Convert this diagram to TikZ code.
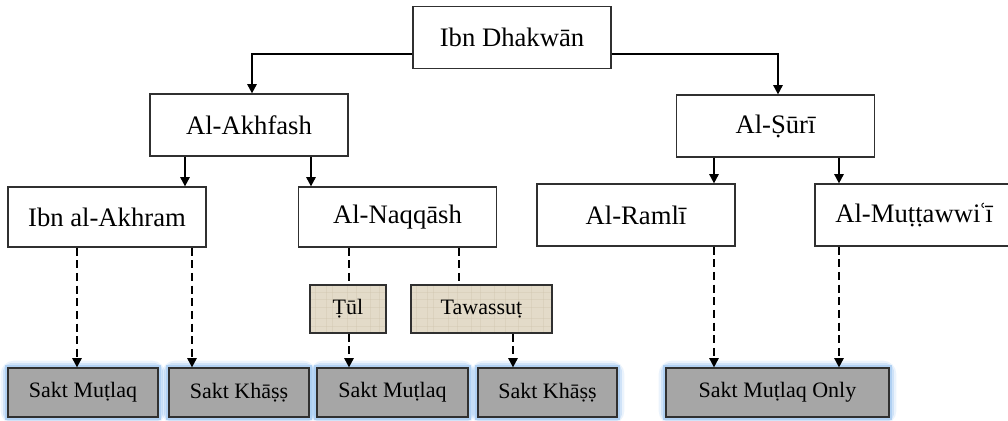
\documentclass[tikz,border=0pt]{standalone}
\usepackage{fontspec}
\setmainfont{Liberation Serif}
\usetikzlibrary{arrows.meta,backgrounds}
\definecolor{boxline}{HTML}{303030}
\definecolor{graybox}{HTML}{A6A6A6}
\definecolor{parch}{HTML}{E3DBC9}
\definecolor{parchline}{HTML}{CDC2AA}
\definecolor{glow}{HTML}{9CC5F0}
\tikzset{
  namebox/.style={draw=boxline, line width=0.9pt, fill=white, minimum width=148.5pt, minimum height=46.5pt, inner sep=0pt, font=\fontsize{20}{23}\selectfont},
  optbox/.style={draw=boxline, line width=0.9pt, minimum height=36pt, inner sep=0pt, font=\fontsize{16.5}{19}\selectfont},
  saktbox/.style={draw=boxline, line width=0.9pt, fill=graybox, minimum height=36.75pt, inner sep=0pt, font=\fontsize{16.5}{19}\selectfont},
  arr/.style={line width=1.4pt, -{Triangle[width=7pt,length=7pt]}},
  darr/.style={line width=1.4pt, dash pattern=on 6pt off 3.5pt, -{Triangle[width=7pt,length=7pt]}},
  dline/.style={line width=1.4pt, dash pattern=on 6pt off 3.5pt},
  texture/.style={parchline, line width=0.8pt, opacity=0.35},
}
\begin{document}
\begin{tikzpicture}[x=0.75pt,y=-0.75pt]
\useasboundingbox (0,0) rectangle (1008,421);
\clip (0,0) rectangle (1008,421);
% nodes
\node[namebox] (dh) at (512,37.5) {Ibn Dhakwān};
\node[namebox] (akh) at (249,125) {Al-Akhfash};
\node[namebox] (suri) at (775.5,126) {Al-Ṣūrī};
\node[namebox, minimum height=45pt] (ikh) at (107,217) {Ibn al-Akhram};
\node[namebox, minimum height=45pt] (naq) at (397.5,217) {Al-Naqqāsh};
\node[namebox] (ram) at (636,215) {Al-Ramlī};
\node[namebox] (mut) at (914,215) {Al-Muṭṭawwi\kern-1.5pt ʿ\kern-1.5pt ī};
\node[optbox, minimum width=57pt] (tul) at (348,309) {Ṭūl};
\node[optbox, minimum width=105.75pt] (taw) at (481.5,309) {Tawassuṭ};
\node[saktbox, minimum width=112.5pt] (b1) at (83,392.5) {Sakt Muṭlaq};
\node[saktbox, minimum width=105pt] (b2) at (239,392.5) {Sakt Khāṣṣ};
\node[saktbox, minimum width=113.25pt] (b3) at (392.5,392.5) {Sakt Muṭlaq};
\node[saktbox, minimum width=104.25pt] (b4) at (547.5,392.5) {Sakt Khāṣṣ};
\node[saktbox, minimum width=167.25pt] (b5) at (777.5,392.5) {Sakt Muṭlaq Only};
% glow and parchment texture
\begin{scope}[on background layer]
\foreach \b in {b1,b2,b3,b4,b5}{
  \draw[glow, opacity=0.2, line width=10pt, rounded corners=5pt] (\b.south west) rectangle (\b.north east);
  \draw[glow, opacity=0.35, line width=6.5pt, rounded corners=3pt] (\b.south west) rectangle (\b.north east);
  \draw[glow, opacity=0.6, line width=3pt] (\b.south west) rectangle (\b.north east);
}
\foreach \o in {tul,taw}{
  \fill[parch] (\o.south west) rectangle (\o.north east);
  \begin{scope}
    \clip (\o.south west) rectangle (\o.north east);
    \foreach \d in {6,17,23,38,47,61,70,84,95,108,121,133}{
      \draw[texture] ([xshift=\d*0.75pt]\o.south west) -- ([xshift=\d*0.75pt]\o.north west);
    }
    \foreach \d in {7,15,26,34,41}{
      \draw[texture] ([yshift=\d*0.75pt]\o.south west) -- ([yshift=\d*0.75pt]\o.south east);
    }
  \end{scope}
}
\end{scope}
% junction coordinates
\coordinate (jl) at (252,54);
\coordinate (jr) at (778,54);
\coordinate (xa) at (185,0);
\coordinate (xb) at (311,0);
\coordinate (xc) at (714,0);
\coordinate (xd) at (839,0);
\coordinate (x1) at (77,0);
\coordinate (x2) at (192,0);
\coordinate (x3) at (349,0);
\coordinate (x4) at (459,0);
\coordinate (x5) at (513,0);
% solid connectors
\draw[arr] (dh.west |- jl) -- (jl) -- (akh.north -| jl);
\draw[arr] (dh.east |- jr) -- (jr) -- (suri.north -| jr);
\draw[arr] (akh.south -| xa) -- (ikh.north -| xa);
\draw[arr] (akh.south -| xb) -- (naq.north -| xb);
\draw[arr] (suri.south -| xc) -- (ram.north -| xc);
\draw[arr] (suri.south -| xd) -- (mut.north -| xd);
% dashed connectors
\draw[darr] (ikh.south -| x1) -- (b1.north -| x1);
\draw[darr] (ikh.south -| x2) -- (b2.north -| x2);
\draw[dline] (naq.south -| x3) -- (tul.north -| x3);
\draw[dline] (naq.south -| x4) -- (taw.north -| x4);
\draw[darr] (tul.south -| x3) -- (b3.north -| x3);
\draw[darr] (taw.south -| x5) -- (b4.north -| x5);
\draw[darr] (ram.south -| xc) -- (b5.north -| xc);
\draw[darr] (mut.south -| xd) -- (b5.north -| xd);
\end{tikzpicture}
\end{document}
